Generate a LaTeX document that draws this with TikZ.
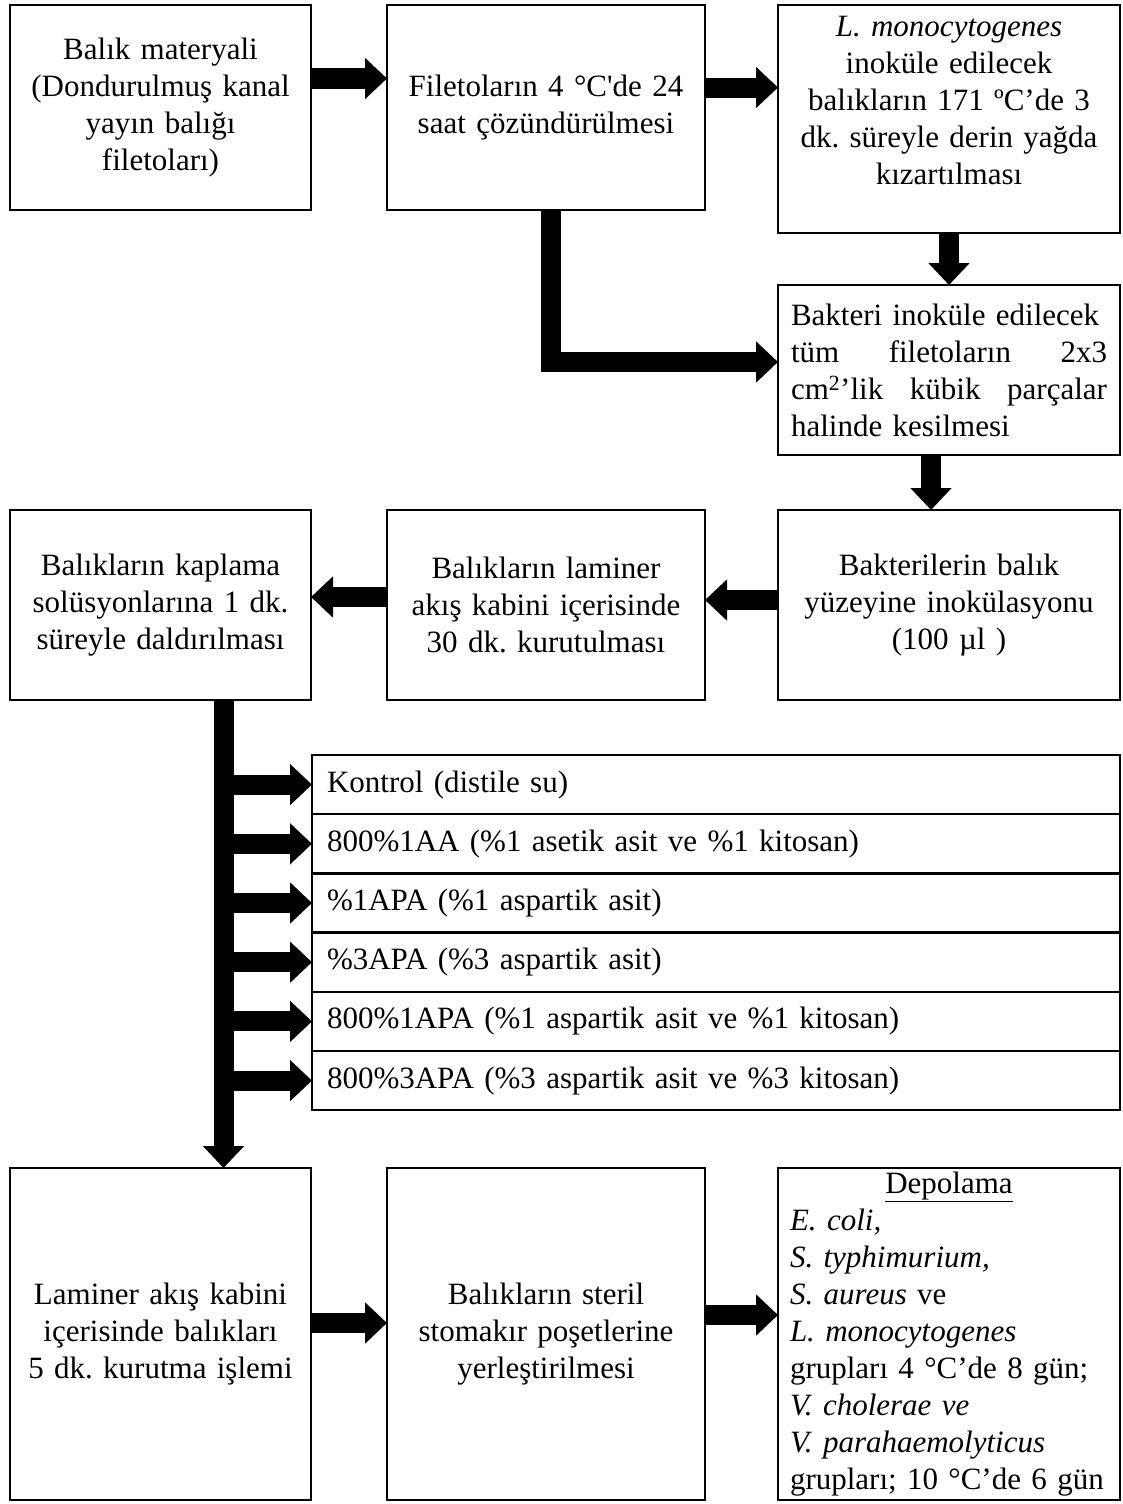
\documentclass[tikz,border=0pt]{standalone}
\usepackage{fontspec}
\setmainfont{Liberation Serif}
\usetikzlibrary{positioning,arrows.meta}
\frenchspacing

\begin{document}
\begin{tikzpicture}[x=1pt, y=-1pt,
	every node/.style={font=\fontsize{31}{37}\selectfont},
	stepbox/.style={draw, line width=2.5pt, outer sep=0pt, inner sep=0pt, align=center},
	rowbox/.style={stepbox, minimum width=808pt, minimum height=59.2pt, text width=778pt, align=left},
	fat/.style={line width=20pt, -{Triangle[width=40pt,length=22pt]}}]

	\useasboundingbox (0,0) rectangle (1123,1504);

	\node[stepbox, minimum width=301pt, minimum height=205pt, text width=290pt] (balik) at (160.5,107.5)
		{Balık materyali\\(Dondurulmuş kanal\\yayın balığı\\filetoları)};
	\node[stepbox, minimum width=318pt, minimum height=205pt, text width=305pt] (coz) at (546,107.5)
		{Filetoların 4 °C\textquotesingle de 24\\saat çözündürülmesi};
	\node[stepbox, minimum width=342pt, minimum height=228pt, text width=334pt] (kizart) at (949,119)
		{\textit{L. monocytogenes}\\inoküle edilecek\\balıkların 171 ºC’de 3\\dk. süreyle derin yağda\\kızartılması\\\mbox{}};
	\node[stepbox, minimum width=342pt, minimum height=170pt, text width=316pt, align=left] (kesim) at (949,370)
		{Bakteri inoküle edilecek\\tüm\hfill filetoların\hfill 2x3\\cm\textsuperscript{2}’lik\hfill kübik\hfill parçalar\\halinde kesilmesi};

	\node[stepbox, minimum width=342pt, minimum height=190pt, text width=334pt] (inok) at (949,605)
		{Bakterilerin balık\\yüzeyine inokülasyonu\\(100 µl )};
	\node[stepbox, minimum width=318pt, minimum height=190pt, text width=310pt] (kurut) at (546,605)
		{Balıkların laminer\\akış kabini içerisinde\\30 dk. kurutulması};
	\node[stepbox, minimum width=301pt, minimum height=190pt, text width=293pt] (kapla) at (160.5,605)
		{Balıkların kaplama\\solüsyonlarına 1 dk.\\süreyle daldırılması};

	\node[rowbox] (r1) at (716,784.6) {Kontrol (distile su)};
	\node[rowbox, below=0pt of r1] (r2) {800\%1AA (\%1 asetik asit ve \%1 kitosan)};
	\node[rowbox, below=0pt of r2] (r3) {\%1APA (\%1 aspartik asit)};
	\node[rowbox, below=0pt of r3] (r4) {\%3APA (\%3 aspartik asit)};
	\node[rowbox, below=0pt of r4] (r5) {800\%1APA (\%1 aspartik asit ve \%1 kitosan)};
	\node[rowbox, below=0pt of r5] (r6) {800\%3APA (\%3 aspartik asit ve \%3 kitosan)};

	\node[stepbox, minimum width=301pt, minimum height=332pt, text width=293pt] (kuru5) at (160.5,1334)
		{Laminer akış kabini\\içerisinde balıkları\\5 dk. kurutma işlemi};
	\node[stepbox, minimum width=318pt, minimum height=332pt, text width=310pt] (poset) at (546,1334)
		{Balıkların steril\\stomakır poşetlerine\\yerleştirilmesi};
	\node[stepbox, minimum width=342pt, minimum height=332pt, text width=318pt, align=left] (depo) at (949,1334)
		{\makebox[\linewidth]{\underline{Depolama}}\\\textit{E. coli,}\\\textit{S. typhimurium,}\\\textit{S. aureus} ve\\\textit{L. monocytogenes}\\grupları 4 °C’de 8 gün;\\\textit{V. cholerae ve}\\\textit{V. parahaemolyticus}\\grupları; 10 °C’de 6 gün};

	\coordinate (trunk) at ([xshift=63pt]kapla.south);

	\draw[fat] ([yshift=29pt]balik.east) -- ([yshift=29pt]coz.west);
	\draw[fat] ([yshift=20pt]coz.east) -- ([yshift=20pt]coz.east -| kizart.west);
	\draw[fat] (kizart.south) -- (kesim.north);
	\draw[fat] ([xshift=5pt]coz.south) |- ([yshift=8pt]kesim.west);
	\draw[fat] ([xshift=-18pt]kesim.south) -- ([xshift=-18pt]inok.north);
	\draw[fat] ([yshift=5pt]inok.west) -- ([yshift=5pt]kurut.east);
	\draw[fat] ([yshift=8pt]kurut.west) -- ([yshift=8pt]kapla.east);
	\draw[fat] (trunk) -- (trunk |- kuru5.north);
	\draw[fat] (trunk |- r1.west) -- (r1.west);
	\draw[fat] (trunk |- r2.west) -- (r2.west);
	\draw[fat] (trunk |- r3.west) -- (r3.west);
	\draw[fat] (trunk |- r4.west) -- (r4.west);
	\draw[fat] (trunk |- r5.west) -- (r5.west);
	\draw[fat] (trunk |- r6.west) -- (r6.west);
	\draw[fat] ([yshift=11pt]kuru5.east) -- ([yshift=11pt]poset.west);
	\draw[fat] ([yshift=19pt]poset.east) -- ([yshift=19pt]poset.east -| depo.west);
\end{tikzpicture}
\end{document}
